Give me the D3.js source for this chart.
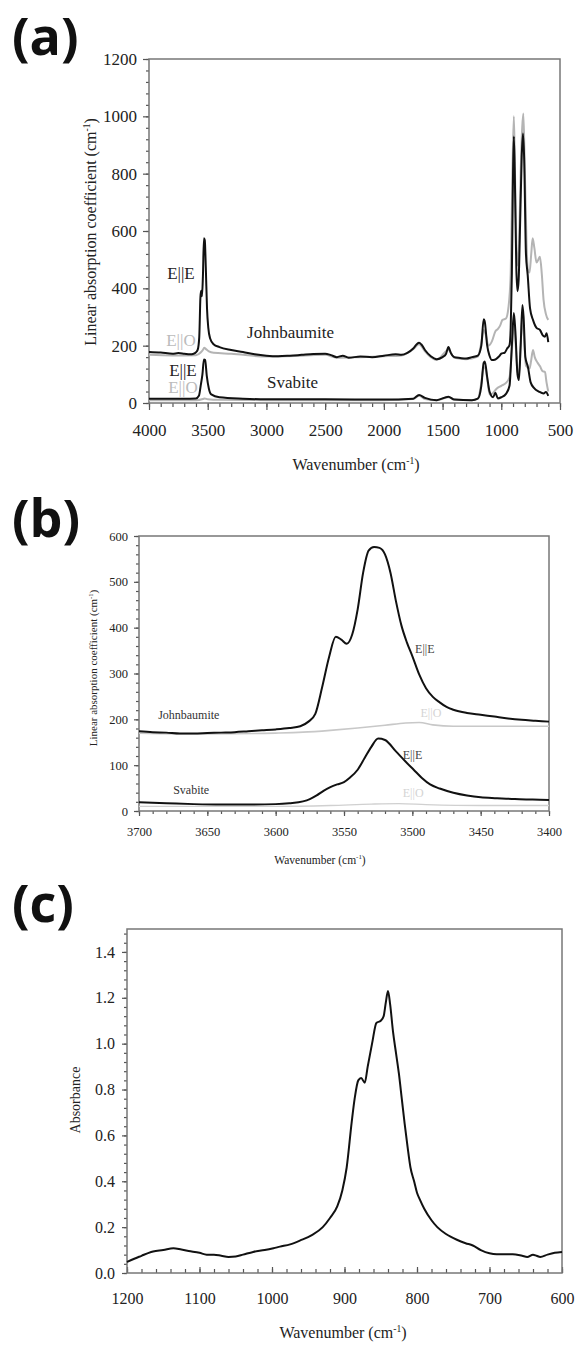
<!DOCTYPE html>
<html><head><meta charset="utf-8">
<script src="https://cdn.jsdelivr.net/npm/d3@7"></script>
<style>body{margin:0;background:#fff}svg{display:block}</style>
</head><body>
<script>
// ---------- DATA ----------
// Panel (a): wavenumber (cm-1), linear absorption coefficient (cm-1)
const aJohnEE = [[4000,178],[3900,176],[3800,172],[3750,174],[3700,172],[3650,170],[3620,172],[3600,177],[3585,186],[3572,230],[3562,370],[3556,392],[3549,372],[3541,440],[3532,575],[3525,568],[3516,470],[3506,330],[3495,262],[3480,226],[3450,205],[3400,195],[3300,185],[3200,178],[3100,170],[3000,165],[2900,163],[2800,165],[2700,168],[2600,171],[2500,172],[2450,167],[2400,160],[2350,165],[2300,158],[2200,162],[2100,160],[2000,165],[1900,170],[1850,168],[1800,175],[1750,190],[1720,205],[1700,210],[1680,204],[1650,185],[1600,163],[1550,153],[1500,160],[1470,172],[1450,195],[1430,175],[1400,160],[1350,157],[1300,155],[1250,160],[1200,165],[1170,200],[1150,292],[1140,282],[1120,200],[1100,165],[1080,150],[1050,152],[1020,162],[1000,172],[970,176],[950,190],[930,202],[920,260],[910,450],[900,800],[893,930],[885,800],[872,470],[862,390],[852,430],[840,620],[826,860],[815,940],[805,850],[790,520],[775,446],[755,330],[730,290],[700,262],[671,255],[645,235],[628,231],[614,243],[600,212]];
const aJohnEO = [[4000,168],[3800,166],[3600,167],[3560,176],[3540,186],[3530,193],[3515,188],[3490,180],[3450,175],[3300,172],[3000,162],[2700,165],[2500,168],[2400,158],[2200,160],[2000,163],[1850,166],[1750,188],[1700,205],[1650,180],[1600,160],[1550,150],[1450,185],[1400,158],[1300,153],[1200,162],[1170,210],[1150,255],[1130,235],[1110,200],[1080,215],[1050,250],[1030,258],[1010,270],[990,290],[960,295],[940,330],[920,450],[905,800],[893,1000],[884,820],[872,560],[860,480],[848,560],[835,800],[822,960],[812,1010],[800,820],[785,560],[775,470],[760,455],[745,520],[733,575],[718,540],[700,490],[685,500],[671,510],[655,450],[640,360],[620,310],[600,290]];
const aSvabEE = [[4000,15],[3800,15],[3700,15],[3600,16],[3575,25],[3560,60],[3545,100],[3532,152],[3522,150],[3508,95],[3490,50],[3470,30],[3400,20],[3200,15],[3000,13],[2500,13],[2000,12],[1750,15],[1700,28],[1650,18],[1550,10],[1450,22],[1400,12],[1250,10],[1200,15],[1170,60],[1150,140],[1140,145],[1120,90],[1100,40],[1070,20],[1050,36],[1030,16],[1000,20],[960,32],[930,60],[910,200],[893,314],[880,250],[862,100],[850,80],[835,200],[820,342],[810,300],[795,160],[773,126],[750,72],[720,52],[680,40],[640,33],[620,38],[600,25]];
const aSvabEO = [[4000,10],[3800,10],[3600,10],[3540,14],[3525,16],[3500,13],[3400,11],[3000,10],[2500,10],[2000,10],[1750,14],[1700,25],[1650,14],[1550,10],[1450,20],[1400,12],[1250,10],[1200,15],[1170,70],[1150,126],[1135,120],[1115,70],[1100,30],[1070,35],[1040,50],[1000,60],[960,70],[930,90],[910,180],[893,280],[880,220],[862,110],[850,100],[835,200],[820,300],[808,240],[790,130],[760,120],[745,150],[730,185],[715,160],[690,140],[670,128],[650,112],[628,108],[614,70],[600,40]];

// Panel (b): wavenumber, linear absorption coefficient
const bJohnEE = [[3700,174],[3690,172],[3680,171],[3670,169],[3660,169],[3650,170],[3640,171],[3630,172],[3620,174],[3610,176],[3600,178],[3590,181],[3582,185],[3576,195],[3571,212],[3566,270],[3561,335],[3556,380],[3552,374],[3548,365],[3544,385],[3540,440],[3536,520],[3532,568],[3528,576],[3524,574],[3520,560],[3516,520],[3512,458],[3508,405],[3504,368],[3500,338],[3495,298],[3490,268],[3485,249],[3480,237],[3475,227],[3470,221],[3460,214],[3450,210],[3440,206],[3430,202],[3420,199],[3410,197],[3400,195]];
const bJohnEO = [[3700,170],[3650,168],[3600,170],[3580,172],[3560,176],[3540,181],[3520,187],[3505,192],[3495,193],[3485,188],[3470,185],[3450,185],[3400,185]];
const bSvabEE = [[3700,19],[3680,17],[3660,15],[3640,14],[3620,14],[3600,15],[3590,17],[3580,21],[3575,26],[3570,34],[3565,44],[3560,52],[3555,58],[3550,63],[3546,72],[3540,90],[3535,115],[3530,140],[3525,158],[3520,155],[3512,130],[3505,108],[3499,90],[3493,72],[3487,58],[3480,49],[3470,40],[3460,34],[3450,30],[3438,28],[3425,26],[3412,25],[3400,24]];
const bSvabEO = [[3700,10],[3600,10],[3560,12],[3530,15],[3510,16],[3490,14],[3450,12],[3400,12]];

// Panel (c): wavenumber, absorbance
const cAbs = [[1200,0.048],[1190,0.062],[1180,0.075],[1170,0.088],[1164,0.094],[1150,0.1],[1136,0.108],[1125,0.102],[1115,0.096],[1100,0.088],[1090,0.08],[1080,0.08],[1070,0.075],[1060,0.07],[1050,0.072],[1040,0.08],[1026,0.092],[1010,0.1],[998,0.108],[989,0.115],[975,0.125],[961,0.142],[945,0.165],[930,0.2],[920,0.24],[910,0.29],[903,0.36],[897,0.46],[890,0.66],[886,0.76],[881,0.84],[877,0.85],[872,0.83],[868,0.9],[862,1.0],[856,1.09],[850,1.1],[846,1.12],[843,1.18],[840,1.23],[837,1.17],[833,1.05],[829,0.96],[825,0.87],[821,0.76],[817,0.65],[813,0.55],[809,0.46],[804,0.4],[800,0.35],[796,0.32],[790,0.28],[780,0.23],[772,0.2],[760,0.17],[745,0.145],[733,0.13],[723,0.12],[712,0.1],[700,0.086],[690,0.082],[668,0.082],[655,0.075],[648,0.07],[640,0.08],[635,0.075],[630,0.07],[620,0.08],[610,0.088],[600,0.092]];

// Tick values
const aXTicks = [4000,3500,3000,2500,2000,1500,1000,500];
const aYTicks = [0,200,400,600,800,1000,1200];
const bXTicks = [3700,3650,3600,3550,3500,3450,3400];
const bYTicks = [0,100,200,300,400,500,600];
const cXTicks = [1200,1100,1000,900,800,700,600];
const cYTicks = [0,0.2,0.4,0.6,0.8,1.0,1.2,1.4];

// ---------- DRAWING ----------
const svg = d3.select("body").append("svg").attr("width",575).attr("height",1347);
const serif = "'Liberation Serif','Times New Roman',serif";

function panel(o){
  const x = d3.scaleLinear().domain(o.xd).range([o.left,o.right]);
  const y = d3.scaleLinear().domain(o.yd).range([o.bottom,o.top]);
  const g = svg.append("g");
  const minorX = d3.range(Math.min(...o.xd), Math.max(...o.xd)+1e-9, o.xMinorStep);
  const minorY = d3.range(o.yd[0], o.yd[1]+1e-9, o.yMinorStep);
  g.append("g").attr("transform",`translate(0,${o.bottom})`)
    .call(d3.axisBottom(x).tickValues(minorX).tickSizeInner(o.xMinor).tickSizeOuter(0).tickFormat(""))
    .call(s=>s.select(".domain").remove());
  g.append("g").attr("transform",`translate(${o.left},0)`)
    .call(d3.axisLeft(y).tickValues(minorY).tickSizeInner(o.yMinor).tickSizeOuter(0).tickFormat(""))
    .call(s=>s.select(".domain").remove());
  const gx = g.append("g").attr("transform",`translate(0,${o.bottom})`)
    .call(d3.axisBottom(x).tickValues(o.xt).tickSizeInner(o.xMajor).tickSizeOuter(0).tickPadding(o.xPad).tickFormat(o.xf||d3.format("d")))
    .call(s=>s.select(".domain").remove());
  const gy = g.append("g").attr("transform",`translate(${o.left},0)`)
    .call(d3.axisLeft(y).tickValues(o.yt).tickSizeInner(o.yMajor).tickSizeOuter(0).tickPadding(o.yPad).tickFormat(o.yf||d3.format("d")))
    .call(s=>s.select(".domain").remove());
  [gx,gy].forEach(a=>{
    a.attr("font-family",serif).style("font-family",serif);
    a.selectAll("text").style("font-family",serif).attr("font-size",o.fs).style("font-size",o.fs+"px").attr("fill","#222");
  });
  g.selectAll("line").attr("stroke","#555").attr("stroke-width",1.2);
  g.append("rect").attr("x",o.left).attr("y",o.top).attr("width",o.right-o.left).attr("height",o.bottom-o.top)
    .attr("fill","none").attr("stroke",o.frame||"#777").attr("stroke-width",1.5);
  const line = d3.line().x(d=>x(d[0])).y(d=>y(d[1])).curve(d3.curveMonotoneX);
  o.series.forEach(s=>{
    g.append("path").datum(s.data).attr("d",line).attr("fill","none")
      .attr("stroke",s.color).attr("stroke-width",s.w).attr("stroke-linejoin","round");
  });
  const xl = g.append("text").attr("x",o.xlx).attr("y",o.xly).attr("text-anchor","middle")
    .style("font-family",serif).attr("font-size",o.lfs).attr("fill","#222");
  xl.append("tspan").text("Wavenumber (cm");
  xl.append("tspan").attr("font-size",o.lfs*0.6).attr("dy",-o.lfs*0.4).text("-1");
  xl.append("tspan").attr("dy",o.lfs*0.4).text(")");
  const yl = g.append("text").attr("transform",`translate(${o.ylx},${o.yly}) rotate(-90)`).attr("text-anchor","middle")
    .style("font-family",serif).attr("font-size",o.ylfs).attr("fill","#222");
  if(o.ytitle==="abs"){ yl.text("Absorbance"); }
  else {
    yl.append("tspan").text("Linear absorption coefficient (cm");
    yl.append("tspan").attr("font-size",o.ylfs*0.6).attr("dy",-o.ylfs*0.4).text("-1");
    yl.append("tspan").attr("dy",o.ylfs*0.4).text(")");
  }
  (o.notes||[]).forEach(n=>{
    g.append("text").attr("x",x(n.wn)).attr("y",y(n.v)).attr("text-anchor",n.anchor||"start")
      .style("font-family",serif).attr("font-size",n.fs).attr("fill",n.color).text(n.t);
  });
  svg.append("text").attr("x",12).attr("y",o.letterY).style("font-family","'Open Sans','Liberation Sans',sans-serif")
    .attr("font-weight",700).attr("font-size",52).attr("fill","#111").text(o.letter);
}

const gray = "#b4b4b4";
panel({
  left:149,right:560,top:59,bottom:403, xd:[4000,500], yd:[0,1200],
  xt:aXTicks, yt:aYTicks, xMinorStep:100, yMinorStep:40,
  xMajor:7, xMinor:4, yMajor:6, yMinor:3, xPad:14, yPad:6, fs:17,
  lfs:16, xlx:356, xly:470, ylfs:16, ylx:96, yly:232,
  series:[
    {data:aJohnEO,color:gray,w:2},{data:aSvabEO,color:gray,w:2},
    {data:aJohnEE,color:"#111",w:2},{data:aSvabEE,color:"#111",w:2}],
  notes:[
    {t:"E||E",wn:3728,v:432,fs:17,color:"#222",anchor:"middle"},
    {t:"E||O",wn:3728,v:199,fs:17,color:"#bbb",anchor:"middle"},
    {t:"Johnbaumite",wn:3165,v:227,fs:17,color:"#222"},
    {t:"E||E",wn:3711,v:94,fs:17,color:"#222",anchor:"middle"},
    {t:"E||O",wn:3711,v:35,fs:17,color:"#bbb",anchor:"middle"},
    {t:"Svabite",wn:2995,v:52,fs:17,color:"#222"}],
  letter:"(a)", letterY:55
});
panel({
  left:139,right:549,top:536,bottom:811, xd:[3700,3400], yd:[0,600],
  xt:bXTicks, yt:bYTicks, xMinorStep:10, yMinorStep:20,
  xMajor:5, xMinor:3, yMajor:5, yMinor:3, xPad:11, yPad:6, fs:12.5,
  lfs:11.5, xlx:320, xly:864, ylfs:11, ylx:97, yly:668,
  series:[
    {data:bJohnEO,color:"#c8c8c8",w:1.6},{data:bSvabEO,color:"#d0d0d0",w:1.4},
    {data:bJohnEE,color:"#111",w:2},{data:bSvabEE,color:"#111",w:2}],
  notes:[
    {t:"Johnbaumite",wn:3686,v:201,fs:12,color:"#333"},
    {t:"Svabite",wn:3675,v:37,fs:12,color:"#333"},
    {t:"E||E",wn:3498,v:345,fs:12,color:"#444"},
    {t:"E||O",wn:3494,v:206,fs:12,color:"#d4d4d4"},
    {t:"E||E",wn:3507,v:113,fs:12,color:"#444"},
    {t:"E||O",wn:3507,v:30,fs:12,color:"#d4d4d4"}],
  letter:"(b)", letterY:537
});
panel({
  left:127,right:562,top:929,bottom:1273, xd:[1200,600], yd:[0,1.5],
  xt:cXTicks, yt:cYTicks, xMinorStep:20, yMinorStep:0.04,
  xMajor:-6, xMinor:-4, yMajor:5, yMinor:3, xPad:20, yPad:7, fs:16,
  xf:d3.format("d"), yf:d3.format(".1f"),
  lfs:16, xlx:343, xly:1338, ylfs:14, ylx:80, yly:1100, ytitle:"abs",
  series:[{data:cAbs,color:"#111",w:2}],
  notes:[], letter:"(c)", letterY:922
});
</script>
</body></html>
